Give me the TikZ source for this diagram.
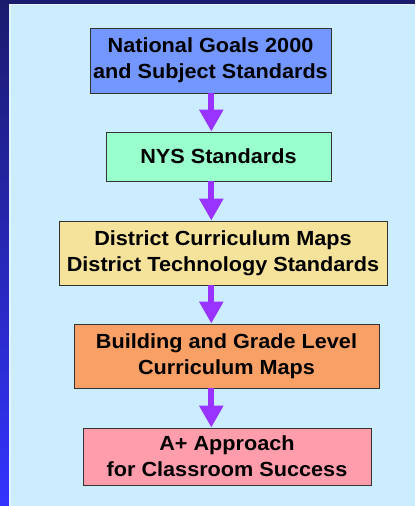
\documentclass[tikz,border=0pt]{standalone}
\usepackage{fontspec}
\setmainfont{Liberation Sans}
\newfontfamily\stagefont{Liberation Sans Bold}[FakeStretch=1.06]
\usetikzlibrary{arrows.meta}
\definecolor{navy}{HTML}{1B1B6E}
\definecolor{brightblue}{HTML}{3333FF}
\definecolor{panel}{HTML}{CCECFF}
\definecolor{panelrim}{HTML}{E4F4FF}
\definecolor{violet}{HTML}{9933FF}
\definecolor{goalsfill}{HTML}{7396FF}
\definecolor{nysfill}{HTML}{99FFCC}
\definecolor{districtfill}{HTML}{F5E29B}
\definecolor{buildingfill}{HTML}{F8A066}
\definecolor{approachfill}{HTML}{FF9DAC}
\tikzset{
  stage/.style={draw=black!80,line width=0.9bp,inner sep=0pt,align=center,
    font=\stagefont\fontsize{20.5}{26.5}\selectfont},
  flow/.style={violet,line width=6bp,-{Triangle[width=23bp,length=22bp]}},
}
\begin{document}
\begin{tikzpicture}[x=1bp,y=1bp]
\useasboundingbox (0,0) rectangle (415,506);
% frame and panel
\shade[bottom color=brightblue,top color=navy] (0,0) rectangle (9,506);
\fill[navy] (0,502) rectangle (415,506);
\fill[panelrim] (9,0) rectangle (415,502);
\fill[panel] (10.5,0) rectangle (415,500.5);
%%
\node (goals) at (210.5,445.5) [stage,fill=goalsfill,minimum width=241bp,minimum height=65bp] {National Goals 2000\\and Subject Standards};
  \node (nys) at (218.5,349.5) [stage,fill=nysfill,minimum width=225bp,minimum height=49bp] {NYS Standards};
  \node (district) at (223,253) [stage,fill=districtfill,minimum width=328bp,minimum height=64bp] {District Curriculum Maps\\District Technology Standards};
  \node (building) at (226.5,150) [stage,fill=buildingfill,minimum width=305bp,minimum height=64bp] {Building and Grade Level\\Curriculum Maps};
  \node (approach) at (227,49.5) [stage,fill=approachfill,minimum width=288bp,minimum height=57bp] {A+ Approach\\for Classroom Success};
  \coordinate (spine) at (211.3,0);
  \draw [flow] (goals.south -| spine) -- (nys.north -| spine);
  \draw [flow] (nys.south -| spine) -- (district.north -| spine);
  \draw [flow] (district.south -| spine) -- (building.north -| spine);
  \draw [flow] (building.south -| spine) -- (approach.north -| spine);
%
\end{tikzpicture}
\end{document}
